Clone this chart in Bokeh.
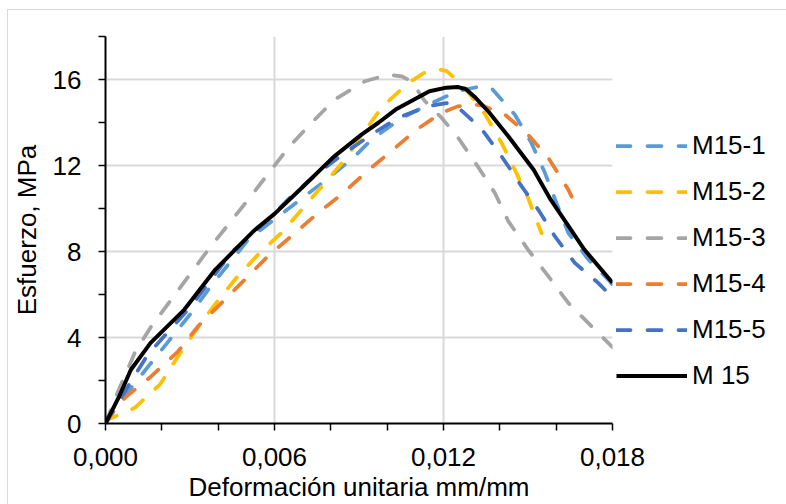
from bokeh.plotting import figure
from bokeh.models import Range1d, FixedTicker, Legend, LegendItem
from bokeh.embed import file_html
from bokeh.resources import INLINE

# ---- data ----
series_names = ["M15-1", "M15-2", "M15-3", "M15-4", "M15-5", "M 15"]

x_m151 = [0, 0.0002, 0.00086, 0.00157, 0.00234, 0.003, 0.00365, 0.00436, 0.00507, 0.006, 0.007, 0.008,
          0.00885, 0.00944, 0.0105, 0.0115, 0.0125, 0.0132, 0.0137, 0.0139, 0.01453, 0.01512, 0.0156,
          0.01601, 0.01643, 0.01714, 0.0179, 0.018]
y_m151 = [0, 0.4, 1.58, 2.74, 3.99, 5.07, 6.23, 7.4, 8.56, 9.5, 10.5, 11.5,
          12.43, 13.2, 14.2, 14.85, 15.46, 15.65, 15.6, 15.3, 14.37, 13.05, 11.66,
          10.26, 8.87, 7.63, 6.62, 6.45]

x_m152 = [0, 0.0001, 0.00104, 0.00193, 0.00258, 0.00323, 0.00388, 0.00465, 0.00542, 0.00625, 0.00702,
          0.00779, 0.0085, 0.00921, 0.0098, 0.01075, 0.0113, 0.0118, 0.0121, 0.01264, 0.01347, 0.01406,
          0.01453, 0.015, 0.01548]
y_m152 = [0, 0.19, 0.73, 1.81, 3.13, 4.37, 5.53, 6.78, 7.86, 8.87, 10.03,
          11.19, 12.28, 13.6, 14.7, 15.84, 16.3, 16.47, 16.4, 15.8, 14.4, 13.05,
          11.81, 10.5, 8.85]

x_m153 = [0, 0.00045, 0.00104, 0.00163, 0.00234, 0.00365, 0.00507, 0.00589, 0.00649, 0.00731, 0.00814,
          0.00921, 0.01004, 0.01051, 0.01086, 0.01134, 0.01193, 0.01252, 0.01323, 0.01382, 0.0143, 0.015,
          0.01572, 0.01643, 0.01725, 0.018]
y_m153 = [0, 1.5, 3.29, 4.53, 5.77, 8.09, 10.42, 11.81, 12.82, 13.98, 15.07,
          15.92, 16.23, 16.15, 15.92, 14.99, 14.22, 13.29, 11.93, 10.73, 9.41, 8.09,
          6.85, 5.61, 4.53, 3.55]

x_m154 = [0, 0.0004, 0.00075, 0.00163, 0.00258, 0.00329, 0.00412, 0.00495, 0.00578, 0.0066, 0.00755,
          0.00838, 0.00933, 0.01015, 0.01104, 0.01193, 0.0125, 0.01299, 0.01335, 0.01418, 0.015, 0.01572,
          0.01643, 0.01655]
y_m154 = [0, 0.8, 1.27, 2.2, 3.36, 4.53, 5.61, 6.7, 7.8, 8.71, 9.8,
          10.65, 11.78, 12.67, 13.67, 14.45, 14.75, 14.84, 14.8, 14.37, 13.44, 12.36,
          10.88, 10.55]

x_m155 = [0, 0.0005, 0.0015, 0.003, 0.0045, 0.0049, 0.00578, 0.0066, 0.00755, 0.0085, 0.00944, 0.01039,
          0.01146, 0.0121, 0.0124, 0.01335, 0.01406, 0.01477, 0.01536, 0.01595, 0.01666, 0.01749, 0.0179]
y_m155 = [0, 1.1, 3.2, 5.4, 8.0, 8.45, 9.49, 10.57, 11.66, 12.59, 13.44, 14.22,
          14.76, 14.9, 14.84, 13.7, 12.43, 11.04, 9.95, 8.71, 7.47, 6.54, 6.0]

x_m15 = [0, 0.0005, 0.0009, 0.0016, 0.0028, 0.0039, 0.0053, 0.006, 0.007, 0.0081, 0.0091, 0.0097, 0.0103,
         0.0115, 0.0121, 0.0125, 0.0128, 0.0131, 0.0136, 0.0143, 0.0152, 0.0158, 0.017, 0.018]
y_m15 = [0, 1.3, 2.5, 3.75, 5.3, 7.16, 9.0, 9.75, 11.0, 12.4, 13.45, 14.0, 14.6,
         15.45, 15.62, 15.65, 15.55, 15.2, 14.5, 13.36, 11.8, 10.42, 8.09, 6.55]

series_x = [x_m151, x_m152, x_m153, x_m154, x_m155, x_m15]
series_y = [y_m151, y_m152, y_m153, y_m154, y_m155, y_m15]
series_colors = ["#5B9BD5", "#FFC000", "#A5A5A5", "#ED7D31", "#4472C4", "#000000"]
series_dashed = [True, True, True, True, True, False]

x_ticks = [0, 0.006, 0.012, 0.018]
x_tick_labels = ["0,000", "0,006", "0,012", "0,018"]
x_minor = [0.002, 0.004, 0.008, 0.010, 0.014, 0.016]
y_ticks = [0, 4, 8, 12, 16]
y_tick_labels = ["0", "4", "8", "12", "16"]
y_minor = [2, 6, 10, 14, 18]

FONT = "Liberation Sans"

p = figure(frame_width=507, frame_height=387, output_backend="svg", toolbar_location=None,
           x_range=Range1d(0, 0.018), y_range=Range1d(0, 18),
           min_border_left=95, min_border_right=160, min_border_top=26, min_border_bottom=86,
           background_fill_color="white", border_fill_color="white")
p.outline_line_color = None
p.styles = {"margin-left": "7px", "margin-top": "9px",
            "border-top": "1px solid #d9d9d9", "border-left": "1px solid #d9d9d9"}

# axes
for ax in (p.xaxis[0], p.yaxis[0]):
    ax.axis_line_color = "black"
    ax.axis_line_width = 2
    ax.major_tick_line_color = "black"
    ax.minor_tick_line_color = "black"
    ax.major_tick_line_width = 1.5
    ax.minor_tick_line_width = 1.5
    ax.major_tick_in = 0
    ax.minor_tick_in = 0
    ax.major_tick_out = 7
    ax.minor_tick_out = 7
    ax.major_label_text_font = FONT
    ax.major_label_text_font_size = "26px"
    ax.major_label_text_color = "black"
    ax.axis_label_text_font = FONT
    ax.axis_label_text_font_size = "26px"
    ax.axis_label_text_font_style = "normal"
    ax.axis_label_text_color = "black"

p.xaxis.ticker = FixedTicker(ticks=x_ticks, minor_ticks=x_minor)
p.xaxis.major_label_overrides = dict(zip(x_ticks, x_tick_labels))
p.xaxis.axis_label = "Deformación unitaria mm/mm"
p.xaxis.major_label_standoff = 17
p.xaxis.axis_label_standoff = 3

p.yaxis.ticker = FixedTicker(ticks=y_ticks, minor_ticks=y_minor)
p.yaxis.major_label_overrides = dict(zip(y_ticks, y_tick_labels))
p.yaxis.axis_label = "Esfuerzo, MPa"
p.yaxis.major_label_standoff = 17
p.yaxis.axis_label_standoff = 8

p.xgrid.grid_line_color = "#d9d9d9"
p.xgrid.grid_line_width = 2
p.ygrid.grid_line_color = "#d9d9d9"
p.ygrid.grid_line_width = 2

items = []
for name, xs, ys, col, dashed in zip(series_names, series_x, series_y, series_colors, series_dashed):
    if dashed:
        r = p.line(xs, ys, line_color=col, line_width=3.75, line_dash="14 17", line_cap="round",
                   line_join="round")
    else:
        r = p.line(xs, ys, line_color=col, line_width=4, line_join="round")
    items.append(LegendItem(label=name, renderers=[r]))

legend = Legend(items=items, location="top_left", orientation="vertical", ncols=1,
                title=" ", title_text_font=FONT, title_text_font_size="25px", title_standoff=61,
                glyph_width=71, glyph_height=29, label_height=29, label_standoff=5, spacing=15,
                padding=0, margin=4, border_line_color=None, background_fill_alpha=0,
                label_text_font=FONT, label_text_font_size="26px", label_text_color="black")
p.add_layout(legend, "right")

open("out.html", "w").write(file_html(p, INLINE))
